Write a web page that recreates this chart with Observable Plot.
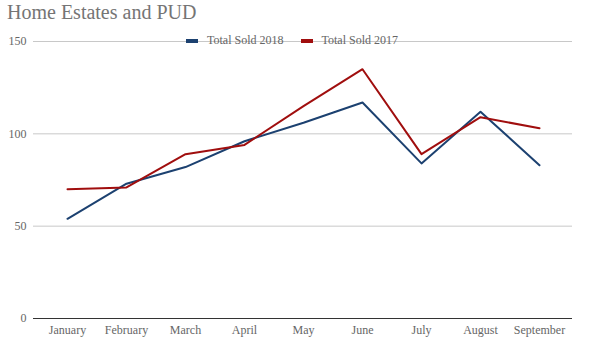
<!DOCTYPE html>
<html>
<head>
<meta charset="utf-8">
<script src="https://cdn.jsdelivr.net/npm/d3@7"></script>
<script src="https://cdn.jsdelivr.net/npm/@observablehq/plot@0.6"></script>
<style>
  body { margin: 0; background: #fff; }
  #wrap { position: relative; width: 589px; height: 347px; font-family: "Liberation Serif", "DejaVu Serif", serif; }
  #title { position: absolute; left: 7px; top: 1px; font-size: 20px; color: #757575; white-space: nowrap; }
  #legend { position: absolute; left: 186px; top: 33px; font-size: 12px; color: #666; display: flex; align-items: center; white-space: nowrap; }
  .item { display: flex; align-items: center; }
  .sw { width: 12px; height: 4px; margin-right: 8px; }
  .lab { padding: 0 1px; }
  svg { display: block; }
</style>
</head>
<body>
<div id="wrap">
  <div id="chart"></div>
  <div id="title">Home Estates and PUD</div>
  <div id="legend"></div>
</div>
<script>
const months = ["January","February","March","April","May","June","July","August","September"];
const sold2018 = [54, 73, 82, 96, 106, 117, 84, 112, 83];
const sold2017 = [70, 71, 89, 94, 115, 135, 89, 109, 103];
const seriesNames = ["Total Sold 2018", "Total Sold 2017"];
const seriesColors = ["#1c4170", "#a00e0e"];
const yTicks = [0, 50, 100, 150];

const data = [];
months.forEach((m, i) => {
  data.push({month: m, value: sold2018[i], series: seriesNames[0]});
  data.push({month: m, value: sold2017[i], series: seriesNames[1]});
});

const chart = Plot.plot({
  width: 589,
  height: 347,
  marginTop: 41,
  marginBottom: 29,
  marginLeft: 33,
  marginRight: 17,
  style: {fontFamily: "'Liberation Serif', serif", fontSize: "12px", color: "#666", background: "#fff"},
  x: {type: "point", domain: months, padding: 0.5, label: null},
  y: {domain: [0, 150], label: null},
  color: {domain: seriesNames, range: seriesColors},
  marks: [
    Plot.gridY(yTicks.filter(d => d > 0), {stroke: "#c8c8c8", strokeOpacity: 1, strokeWidth: 1}),
    Plot.axisY({ticks: yTicks, tickSize: 0, tickPadding: 7, fill: "#666", label: null}),
    Plot.axisX({tickSize: 0, tickPadding: 7, fill: "#666", label: null}),
    Plot.ruleY([0], {stroke: "#333", strokeWidth: 1}),
    Plot.line(data, {x: "month", y: "value", z: "series", stroke: "series", strokeWidth: 2})
  ]
});
document.getElementById("chart").appendChild(chart);

const legend = document.getElementById("legend");
seriesNames.forEach((n, i) => {
  const it = document.createElement("div");
  it.className = "item";
  it.style.marginRight = i === 0 ? "16px" : "0";
  const sw = document.createElement("div");
  sw.className = "sw";
  sw.style.background = seriesColors[i];
  const lab = document.createElement("span");
  lab.className = "lab";
  lab.textContent = n;
  it.appendChild(sw); it.appendChild(lab);
  legend.appendChild(it);
});
</script>
</body>
</html>
